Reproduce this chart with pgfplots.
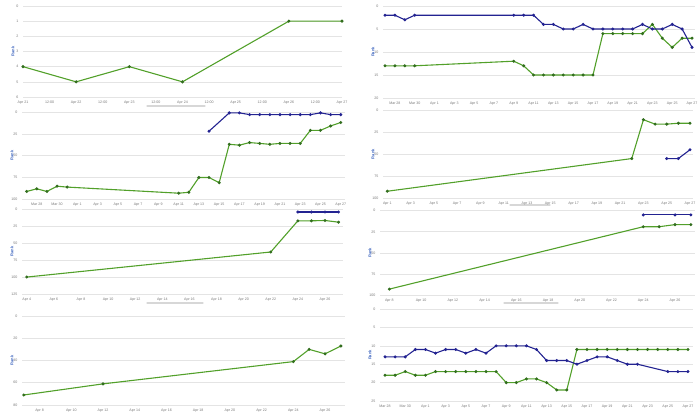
\documentclass[border=0pt]{standalone}
\usepackage{fontspec}
\setmainfont{Liberation Sans}
\usepackage{pgfplots}
\pgfplotsset{compat=1.18}
\definecolor{greenc}{RGB}{82,160,42}
\definecolor{greenm}{RGB}{50,110,30}
\definecolor{bluec}{RGB}{35,35,145}
\definecolor{gridc}{RGB}{228,228,228}
\definecolor{tickc}{RGB}{120,120,120}
\definecolor{rankc}{RGB}{60,100,190}
\definecolor{barc}{RGB}{215,215,215}
\pgfplotsset{
 panel/.style={
  scale only axis, anchor=south west, y dir=reverse,
  axis line style={draw=none}, major tick length=0pt, tick style={draw=none},
  ymajorgrids, grid style={draw=gridc, line width=0.6pt},
  every tick label/.append style={font=\fontsize{3.6}{4}\selectfont, text=tickc},
  /pgf/number format/assume math mode=true,
  ylabel={Rank},
  every axis y label/.style={at={([xshift=-10pt]axis description cs:0,0.5)}, rotate=90, anchor=center, font=\fontsize{4}{5}\selectfont\bfseries, text=rankc},
  yticklabel style={xshift=-1pt},
  xticklabel style={yshift=-0.5pt},
  clip=false,
 },
 gser/.style={color=greenc, line width=1.1pt, mark=*, mark size=0.9pt, mark options={fill=greenm, draw=greenm}},
 bser/.style={color=bluec, line width=1.1pt, mark=*, mark size=0.9pt, mark options={fill=bluec, draw=bluec}},
}
\def\marlbl{Mar 28,Mar 30,Apr 1,Apr 3,Apr 5,Apr 7,Apr 9,Apr 11,Apr 13,Apr 15,Apr 17,Apr 19,Apr 21,Apr 23,Apr 25,Apr 27}
\begin{document}
\begin{tikzpicture}[x=1pt,y=1pt]
\useasboundingbox (0,0) rectangle (700,413);
% scrollbars
\draw[barc, line width=1.2pt, line cap=round] (147,307) -- (205,307);
\draw[barc, line width=1.2pt, line cap=round] (510,208) -- (550,208);
\draw[barc, line width=1.2pt, line cap=round] (147,110) -- (203,110);
\draw[barc, line width=1.2pt, line cap=round] (504,110) -- (558,110);

% P1
\begin{axis}[panel, at={(23pt,316pt)}, width=319pt, height=91pt,
  xmin=21, xmax=27, ymin=0, ymax=6, ytick={0,...,6},
  xtick={21,21.5,...,27},
  xticklabels={Apr 21,12:00,Apr 22,12:00,Apr 23,12:00,Apr 24,12:00,Apr 25,12:00,Apr 26,12:00,Apr 27}]
\addplot[gser] coordinates {(21,4)(22,5)(23,4)(24,5)(26,1)(27,1)};
\end{axis}

% P2
\begin{axis}[panel, at={(383pt,315pt)}, width=312pt, height=92pt,
  xmin=-4.2, xmax=27.3, ymin=0, ymax=20, ytick={0,5,...,20},
  xtick={-3,-1,...,27}, xticklabels/.expand once={\marlbl}]
\addplot[gser] coordinates {(-4,13)(-3,13)(-2,13)(-1,13)(9,12)(10,13)(11,15)(12,15)(13,15)(14,15)(15,15)(16,15)(17,15)(18,6)(19,6)(20,6)(21,6)(22,6)(23,4)(24,7)(25,9)(26,7)(27,7)};
\addplot[bser] coordinates {(-4,2)(-3,2)(-2,3)(-1,2)(9,2)(10,2)(11,2)(12,4)(13,4)(14,5)(15,5)(16,4)(17,5)(18,5)(19,5)(20,5)(21,5)(22,4)(23,5)(24,5)(25,4)(26,5)(27,9)};
\end{axis}

% P3
\begin{axis}[panel, at={(22pt,213.7pt)}, width=323pt, height=87.3pt,
  xmin=-4.46, xmax=27.42, ymin=0, ymax=100, ytick={0,25,...,100},
  xtick={-3,-1,...,27}, xticklabels/.expand once={\marlbl}]
\addplot[gser] coordinates {(-4,91)(-3,88)(-2,91)(-1,85)(0,86)(11,93)(12,92)(13,75)(14,75)(15,81)(16,37)(17,38)(18,35)(19,36)(20,37)(21,36)(22,36)(23,36)(24,21)(25,21)(26,16)(27,12)};
\addplot[bser] coordinates {(14,22)(16,1)(17,1)(18,3)(19,3)(20,3)(21,3)(22,3)(23,3)(24,3)(25,1)(26,3)(27,3)};
\end{axis}

% P4
\begin{axis}[panel, at={(383pt,214.7pt)}, width=310pt, height=88.3pt,
  xmin=0.63, xmax=27.26, ymin=0, ymax=100, ytick={0,25,...,100},
  xtick={1,3,...,27},
  xticklabels={Apr 1,Apr 3,Apr 5,Apr 7,Apr 9,Apr 11,Apr 13,Apr 15,Apr 17,Apr 19,Apr 21,Apr 23,Apr 25,Apr 27}]
\addplot[gser] coordinates {(1,92)(22,55)(23,11)(24,16)(25,16)(26,15)(27,15)};
\addplot[bser] coordinates {(25,55)(26,55)(27,45)};
\end{axis}

% P5
\begin{axis}[panel, at={(22pt,119pt)}, width=321pt, height=84.7pt,
  xmin=3.65, xmax=27.33, ymin=0, ymax=125, ytick={0,25,...,125},
  xtick={4,6,...,26},
  xticklabels={Apr 4,Apr 6,Apr 8,Apr 10,Apr 12,Apr 14,Apr 16,Apr 18,Apr 20,Apr 22,Apr 24,Apr 26}]
\addplot[gser] coordinates {(4,100)(22,63)(24,17)(25,17)(26,16.5)(27,19)};
\addplot[bser] coordinates {(24,4)(25,4)(26,4)(27,4)};
\end{axis}

% P6
\begin{axis}[panel, at={(380pt,118pt)}, width=315pt, height=84.3pt,
  xmin=7.41, xmax=27.26, ymin=0, ymax=100, ytick={0,25,...,100},
  xtick={8,10,...,26},
  xticklabels={Apr 8,Apr 10,Apr 12,Apr 14,Apr 16,Apr 18,Apr 20,Apr 22,Apr 24,Apr 26}]
\addplot[gser] coordinates {(8,93)(24,19)(25,19)(26,16.5)(27,16.5)};
\addplot[bser] coordinates {(24,5)(26,5)(27,5)};
\end{axis}

% P7
\begin{axis}[panel, at={(22pt,8pt)}, width=323pt, height=89pt,
  xmin=6.89, xmax=27.26, ymin=0, ymax=80, ytick={0,20,...,80},
  xtick={8,10,...,26},
  xticklabels={Apr 8,Apr 10,Apr 12,Apr 14,Apr 16,Apr 18,Apr 20,Apr 22,Apr 24,Apr 26}]
\addplot[gser] coordinates {(7,71)(12,61)(24,41)(25,30)(26,34)(27,27)};
\end{axis}

% P8
\begin{axis}[panel, at={(380pt,12pt)}, width=313pt, height=92pt,
  xmin=-3.5, xmax=27.5, ymin=0, ymax=25, ytick={0,5,...,25},
  xtick={-3,-1,...,27}, xticklabels/.expand once={\marlbl}]
\addplot[gser] coordinates {(-3,18)(-2,18)(-1,17)(0,18)(1,18)(2,17)(3,17)(4,17)(5,17)(6,17)(7,17)(8,17)(9,20)(10,20)(11,19)(12,19)(13,20)(14,22)(15,22)(16,11)(17,11)(18,11)(19,11)(20,11)(21,11)(22,11)(23,11)(24,11)(25,11)(26,11)(27,11)};
\addplot[bser] coordinates {(-3,13)(-2,13)(-1,13)(0,11)(1,11)(2,12)(3,11)(4,11)(5,12)(6,11)(7,12)(8,10)(9,10)(10,10)(11,10)(12,11)(13,14)(14,14)(15,14)(16,15)(17,14)(18,13)(19,13)(20,14)(21,15)(22,15)(25,17)(26,17)(27,17)};
\end{axis}
\end{tikzpicture}
\end{document}
